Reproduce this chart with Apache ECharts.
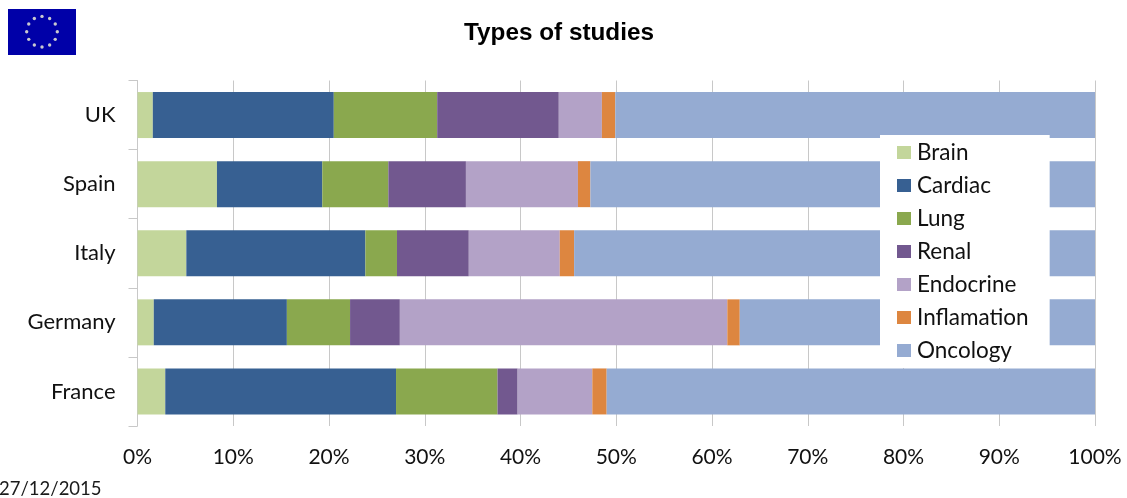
<!DOCTYPE html>
<html>
<head>
<meta charset="utf-8">
<style>html,body{margin:0;padding:0;background:#fff}#c{width:1127px;height:498px}</style>
<script src="https://cdn.jsdelivr.net/npm/echarts@6/dist/echarts.min.js"></script>
</head>
<body>
<div id="c"></div>
<script>
const countries = ['France','Germany','Italy','Spain','UK'];
const brain      = [2.9, 1.7, 5.1, 8.3, 1.6];
const cardiac    = [24.1, 13.9, 18.7, 11.0, 18.9];
const lung       = [10.6, 6.6, 3.3, 6.9, 10.8];
const renal      = [2.1, 5.2, 7.5, 8.1, 12.7];
const endocrine  = [7.8, 34.2, 9.5, 11.7, 4.5];
const inflamation= [1.5, 1.3, 1.5, 1.3, 1.4];
const oncology   = [51.0, 37.1, 54.4, 52.7, 50.1];
const seriesNames = ['Brain','Cardiac','Lung','Renal','Endocrine','Inflamation','Oncology'];
const seriesValues = [brain,cardiac,lung,renal,endocrine,inflamation,oncology];
const colors = ['#c3d69b','#376092','#8aa84e','#72588f','#b3a2c7','#dd8640','#95abd2'];
const FONT = 'Lato, Carlito, sans-serif';

const stars = [];
for (let i = 0; i < 12; i++) {
  const a = i * Math.PI / 6;
  stars.push({type:'circle', shape:{cx:42+Math.sin(a)*15.3, cy:31.7-Math.cos(a)*15.3, r:1.7},
    style:{fill:'#c9c9cf'}, silent:true});
}

const chart = echarts.init(document.getElementById('c'), null, {renderer:'canvas'});
chart.setOption({
  animation:false,
  backgroundColor:'#fff',
  color:colors,
  title:[
    {text:'Types of studies', left:554, top:16, textAlign:'center',
     textStyle:{fontFamily:'"Liberation Sans", Arial, sans-serif', fontSize:24.3, fontWeight:'bold', color:'#000'}},
    {text:'27/12/2015', left:-1, top:480, padding:0,
     textStyle:{fontFamily:FONT, fontSize:18.5, fontWeight:'normal', color:'#1a1a1a'}}
  ],
  grid:{left:137.5, right:32, top:80.5, height:345.5, containLabel:false},
  legend:{
    orient:'vertical', left:880, top:135, icon:'rect',
    itemWidth:14, itemHeight:13, itemGap:10,
    padding:[6,21,6,17], backgroundColor:'#fff',
    data:seriesNames, selectedMode:false,
    textStyle:{fontFamily:FONT, fontSize:22.5, color:'#111', padding:[0,0,0,1]}
  },
  xAxis:{
    type:'value', min:0, max:100, interval:10,
    axisLabel:{formatter:'{value}%', fontFamily:FONT, fontSize:21, color:'#111', margin:21},
    axisLine:{show:false}, axisTick:{show:false},
    splitLine:{show:true, lineStyle:{color:'#c8c8c8', width:1}}
  },
  yAxis:{
    type:'category', data:countries,
    axisLabel:{fontFamily:FONT, fontSize:22, color:'#111', margin:22},
    axisLine:{show:true, lineStyle:{color:'#c8c8c8', width:1}},
    axisTick:{show:true, length:9, alignWithLabel:false, lineStyle:{color:'#c8c8c8', width:1}}
  },
  series:seriesNames.map((n,i)=>({
    name:n, type:'bar', stack:'total', data:seriesValues[i], barWidth:46,
    itemStyle:{color:colors[i]}
  })),
  graphic:[
    {type:'rect', shape:{x:8,y:9,width:68,height:46}, style:{fill:'#0000a8'}, silent:true},
    ...stars
  ]
});
</script>
</body>
</html>
